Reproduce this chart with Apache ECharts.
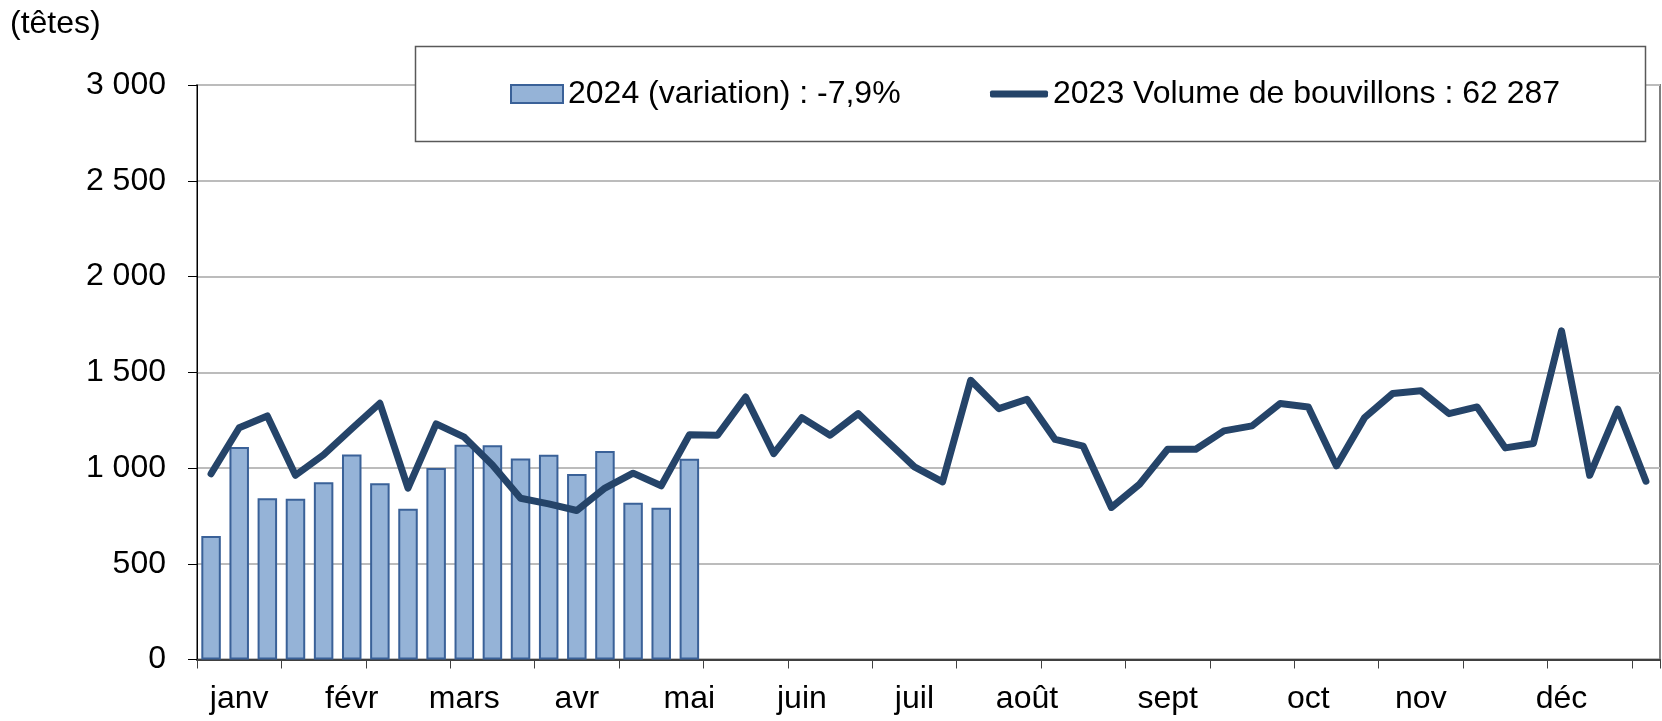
<!DOCTYPE html>
<html>
<head>
<meta charset="utf-8">
<script src="https://cdn.jsdelivr.net/npm/echarts@6/dist/echarts.min.js"></script>
<style>
html,body{margin:0;padding:0;background:#fff;}
#chart{width:1662px;height:721px;}
</style>
</head>
<body>
<div id="chart"></div>
<script>
// ---- data ----
const months = ['janv','févr','mars','avr','mai','juin','juil','août','sept','oct','nov','déc'];
const monthLabelWeek = [1,5,9,13,17,21,25,29,34,39,43,48];
const WEEKS = 52;
const name2024 = '2024 (variation) : -7,9%';
const name2023 = '2023 Volume de bouvillons : 62 287';
const vol2024 = [645,1110,842,839,926,1070,921,787,1000,1121,1119,1049,1069,969,1089,818,792,1048];
const vol2023 = [970,1210,1272,962,1069,1205,1338,895,1230,1161,1016,842,813,778,895,973,907,1173,
                 1171,1371,1075,1263,1171,1284,1145,1006,928,1458,1310,1359,1149,1114,794,915,1098,1098,
                 1194,1220,1337,1319,1011,1263,1389,1403,1284,1319,1105,1128,1716,962,1307,931];
const yTicks = {min:0, max:3000, step:500};
const unitLabel = '(têtes)';

// ---- build ----
const categories = [];
for (let i = 0; i < WEEKS; i++) {
  const k = monthLabelWeek.indexOf(i);
  categories.push(k >= 0 ? months[k] : '');
}
const FONT = 'Liberation Sans, Arial, sans-serif';
const FS = 32;
const fmt = v => String(v).replace(/\B(?=(\d{3})+(?!\d))/g, ' ');

const chart = echarts.init(document.getElementById('chart'));
chart.setOption({
  animation: false,
  backgroundColor: '#ffffff',
  textStyle: {fontFamily: FONT},
  title: {
    text: unitLabel, left: 10, top: 8, padding: 0,
    textStyle: {fontFamily: FONT, fontSize: FS, fontWeight: 'normal', color: '#000'}
  },
  graphic: [{
    type: 'rect', z: 50,
    shape: {x: 415.5, y: 46.5, width: 1230, height: 95},
    style: {fill: '#ffffff', stroke: '#595959', lineWidth: 1.5}
  }],
  legend: [{
    data: [name2024], left: 510, top: 78, padding: 0, z: 60,
    icon: 'rect', itemWidth: 52, itemHeight: 18,
    itemStyle: {color: '#95b3d7', borderColor: '#3a6198', borderWidth: 2},
    textStyle: {fontFamily: FONT, fontSize: FS, color: '#000'}
  }, {
    data: [name2023], left: 990, top: 78, padding: 0, z: 60,
    icon: 'roundRect', itemWidth: 58, itemHeight: 7,
    itemStyle: {color: '#254469', borderWidth: 0},
    textStyle: {fontFamily: FONT, fontSize: FS, color: '#000'}
  }],
  grid: {
    left: 197, right: 2, top: 85, bottom: 61.5,
    show: true, borderColor: '#7f7f7f', borderWidth: 2, backgroundColor: 'transparent'
  },
  xAxis: {
    type: 'category', data: categories, boundaryGap: true,
    axisLine: {lineStyle: {color: '#404040', width: 2}},
    axisTick: {show: true, interval: 2, length: 9, lineStyle: {color: '#404040', width: 1}},
    axisLabel: {interval: 0, margin: 24, fontFamily: FONT, fontSize: FS, color: '#000'},
    splitLine: {show: false}
  },
  yAxis: {
    type: 'value', min: yTicks.min, max: yTicks.max, interval: yTicks.step,
    axisLine: {show: true, lineStyle: {color: '#000', width: 1}},
    axisTick: {show: true, length: 9, lineStyle: {color: '#000', width: 1}},
    axisLabel: {margin: 31, fontFamily: FONT, fontSize: FS, color: '#000', formatter: fmt},
    splitLine: {show: true, lineStyle: {color: '#bcbcbc', width: 2}}
  },
  series: [{
    name: name2024, type: 'bar', data: vol2024, barWidth: 19.5, z: 2,
    itemStyle: {color: '#95b3d7', borderColor: '#3a6198', borderWidth: 2}
  }, {
    name: name2023, type: 'line', data: vol2023, z: 3,
    symbol: 'none', showSymbol: false,
    lineStyle: {color: '#254469', width: 7, cap: 'round', join: 'round'},
    itemStyle: {color: '#254469'}
  }]
});
</script>
</body>
</html>
